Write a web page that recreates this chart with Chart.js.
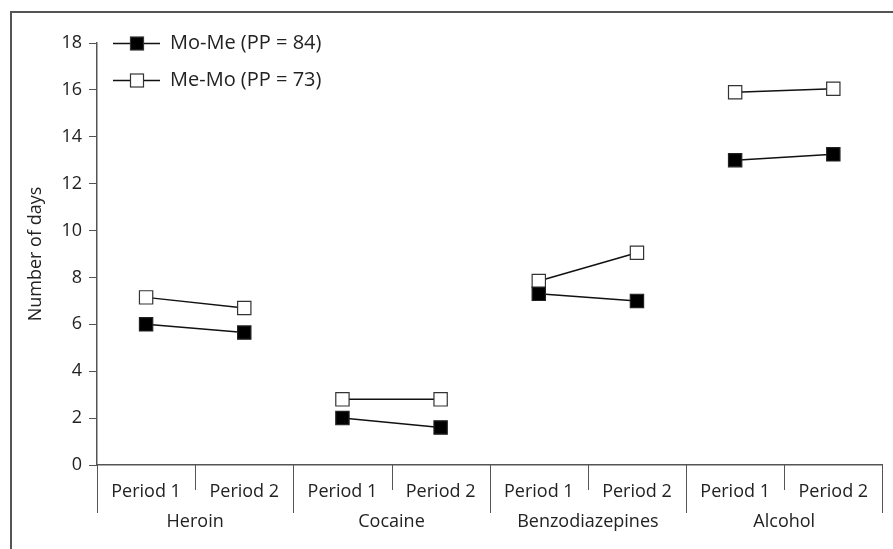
<!DOCTYPE html>
<html>
<head>
<meta charset="utf-8">
<script src="https://cdn.jsdelivr.net/npm/chart.js@4/dist/chart.umd.min.js"></script>
<style>
  html, body { margin: 0; padding: 0; background: #fff; }
  #wrap { width: 893px; height: 549px; }
</style>
</head>
<body>
<div id="wrap"><canvas id="c" width="893" height="549"></canvas></div>
<script>
const categories = ['Period 1', 'Period 2', 'Period 1', 'Period 2', 'Period 1', 'Period 2', 'Period 1', 'Period 2'];
const groups = ['Heroin', 'Cocaine', 'Benzodiazepines', 'Alcohol'];
const seriesNames = ['Mo-Me (PP = 84)', 'Me-Mo (PP = 73)'];
const moMe = [6.0, 5.65, 2.0, 1.6, 7.3, 7.0, 13.0, 13.25];
const meMo = [7.15, 6.7, 2.8, 2.8, 7.85, 9.05, 15.9, 16.05];
const yMin = 0, yMax = 18, yStep = 2;
const axisTitle = 'Number of days';

const FONT = "'Open Sans', 'Noto Sans', sans-serif";
const FS = 18;
const TXT = '#222';
const AX = '#555';

const framePlugin = {
  id: 'frame',
  beforeDraw(chart) {
    const ctx = chart.ctx;
    ctx.save();
    ctx.fillStyle = '#fff';
    ctx.fillRect(0, 0, chart.width, chart.height);
    ctx.strokeStyle = AX;
    ctx.lineWidth = 2;
    ctx.beginPath();
    ctx.moveTo(11, chart.height);
    ctx.lineTo(11, 12);
    ctx.lineTo(chart.width, 12);
    ctx.stroke();
    ctx.restore();
  }
};

const xTicksPlugin = {
  id: 'xTicks',
  afterDraw(chart) {
    const ctx = chart.ctx;
    const x = chart.scales.x;
    const base = chart.chartArea.bottom;
    ctx.save();
    ctx.strokeStyle = AX;
    ctx.lineWidth = 1;
    const n = categories.length;
    for (let i = 0; i <= n; i++) {
      let px;
      if (i === 0) px = x.left;
      else if (i === n) px = x.right;
      else px = (x.getPixelForValue(i - 1) + x.getPixelForValue(i)) / 2;
      px = Math.round(px) + 0.5;
      const len = (i % 2 === 0) ? 48 : 25;
      ctx.beginPath();
      ctx.moveTo(px, base);
      ctx.lineTo(px, base + len);
      ctx.stroke();
    }
    ctx.restore();
  }
};

const legendPlugin = {
  id: 'customLegend',
  afterDraw(chart) {
    const ctx = chart.ctx;
    ctx.save();
    const rows = [43, 80];
    chart.data.datasets.forEach((ds, i) => {
      const y = rows[i] + 0.5;
      ctx.strokeStyle = '#111';
      ctx.lineWidth = 1.5;
      ctx.beginPath();
      ctx.moveTo(113, y);
      ctx.lineTo(160, y);
      ctx.stroke();
      const s = 13;
      ctx.fillStyle = ds.pointBackgroundColor;
      ctx.fillRect(137 - s / 2, y - s / 2, s, s);
      ctx.strokeStyle = '#333';
      ctx.lineWidth = 1.2;
      ctx.strokeRect(137 - s / 2, y - s / 2, s, s);
      ctx.fillStyle = TXT;
      ctx.font = '20px ' + FONT;
      ctx.textBaseline = 'middle';
      ctx.textAlign = 'left';
      ctx.fillText(ds.label, 170, y);
    });
    ctx.restore();
  }
};

const segColor = ctx => (ctx.p0DataIndex % 2 === 1) ? 'rgba(0,0,0,0)' : '#111';

new Chart(document.getElementById('c'), {
  type: 'line',
  data: {
    labels: categories,
    datasets: [
      {
        label: seriesNames[0],
        data: moMe,
        borderColor: '#111',
        borderWidth: 1.5,
        segment: { borderColor: segColor },
        pointStyle: 'rect',
        pointRadius: 9.4,
        pointBackgroundColor: '#000',
        pointBorderColor: '#222',
        pointBorderWidth: 1.2,
        fill: false,
        tension: 0
      },
      {
        label: seriesNames[1],
        data: meMo,
        borderColor: '#111',
        borderWidth: 1.5,
        segment: { borderColor: segColor },
        pointStyle: 'rect',
        pointRadius: 9.4,
        pointBackgroundColor: '#fff',
        pointBorderColor: '#333',
        pointBorderWidth: 1.2,
        fill: false,
        tension: 0
      }
    ]
  },
  options: {
    responsive: false,
    animation: false,
    events: [],
    layout: { padding: { left: 0, top: 43, right: 4, bottom: 0 } },
    plugins: {
      legend: { display: false },
      tooltip: { enabled: false }
    },
    scales: {
      x: {
        type: 'category',
        position: 'bottom',
        weight: 0,
        offset: true,
        grid: { display: false, drawTicks: false },
        border: { display: true, color: AX, width: 1.5 },
        ticks: { color: TXT, font: { family: FONT, size: FS }, padding: 16, maxRotation: 0, autoSkip: false },
        afterFit(scale) { scale.height = 37.6; }
      },
      x2: {
        type: 'category',
        position: 'bottom',
        weight: 1,
        labels: groups,
        offset: true,
        grid: { display: false, drawTicks: false },
        border: { display: false },
        ticks: { color: TXT, font: { family: FONT, size: FS }, padding: 8.6, maxRotation: 0, autoSkip: false },
        afterFit(scale) { scale.height = 549 - 465 - 37.6; }
      },
      y: {
        min: yMin,
        max: yMax,
        grid: { drawOnChartArea: false, drawTicks: true, tickLength: 8, color: AX, lineWidth: 1 },
        border: { display: true, color: AX, width: 1.5 },
        ticks: { stepSize: yStep, color: TXT, font: { family: FONT, size: FS }, padding: 7 },
        title: { display: true, text: axisTitle, color: TXT, font: { family: FONT, size: FS }, padding: { top: 25, bottom: 0 } },
        afterFit(scale) { scale.width = 97; }
      }
    }
  },
  plugins: [framePlugin, xTicksPlugin, legendPlugin]
});
</script>
</body>
</html>
